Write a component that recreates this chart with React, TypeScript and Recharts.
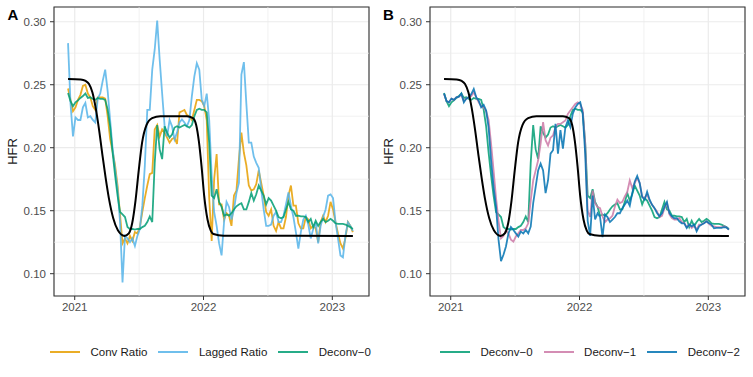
import { CartesianGrid, Line, LineChart, ReferenceArea, ReferenceLine, XAxis, YAxis } from "recharts";

// weekly estimates, first week ~ mid Dec 2020
const WEEK_START = 2020.948;

const convRatio = [
  0.247, 0.238, 0.229, 0.232, 0.238, 0.242, 0.249, 0.25, 0.243, 0.24,
  0.233, 0.23, 0.24, 0.24, 0.24, 0.239, 0.225, 0.207, 0.197, 0.186,
  0.17, 0.147, 0.124, 0.128, 0.124, 0.13, 0.126, 0.133, 0.132, 0.137,
  0.149, 0.16, 0.17, 0.179, 0.18, 0.2145, 0.218, 0.209, 0.2145, 0.212,
  0.208, 0.204, 0.207, 0.208, 0.203, 0.228, 0.229, 0.23, 0.226, 0.225,
  0.222, 0.23, 0.238, 0.238, 0.237, 0.233, 0.222, 0.16, 0.126, 0.175,
  0.195, 0.155, 0.155, 0.143, 0.148, 0.146, 0.138, 0.162, 0.166, 0.191,
  0.212, 0.196, 0.186, 0.17, 0.166, 0.167, 0.171, 0.182, 0.172, 0.162,
  0.149, 0.146, 0.151, 0.138, 0.134, 0.141, 0.136, 0.136, 0.145, 0.162,
  0.17, 0.154, 0.154, 0.14, 0.136, 0.136, 0.145, 0.143, 0.136, 0.138,
  0.136, 0.125, 0.141, 0.146, 0.141, 0.146, 0.157, 0.151, 0.141, 0.132,
  0.124, 0.12, 0.128, 0.141, 0.138, 0.133,
];

const laggedRatio = [
  0.283, 0.235, 0.209, 0.224, 0.222, 0.222, 0.232, 0.2355, 0.224, 0.225,
  0.222, 0.22, 0.239, 0.243, 0.253, 0.262, 0.245, 0.222, 0.199, 0.183,
  0.167, 0.141, 0.093, 0.13, 0.128, 0.125, 0.128, 0.122, 0.13, 0.1355,
  0.154, 0.1855, 0.23, 0.23, 0.262, 0.278, 0.301, 0.27, 0.243, 0.217,
  0.209, 0.222, 0.217, 0.2066, 0.212, 0.22, 0.2224, 0.22, 0.217, 0.222,
  0.241, 0.2566, 0.267, 0.262, 0.238, 0.233, 0.243, 0.222, 0.178, 0.149,
  0.138, 0.124, 0.1145, 0.141, 0.157, 0.153, 0.143, 0.151, 0.164, 0.172,
  0.258, 0.268, 0.235, 0.204, 0.204, 0.193, 0.188, 0.184, 0.167, 0.151,
  0.138, 0.138, 0.139, 0.146, 0.149, 0.141, 0.141, 0.146, 0.155, 0.1645,
  0.154, 0.145, 0.133, 0.12, 0.133, 0.143, 0.146, 0.139, 0.128, 0.1355,
  0.141, 0.124, 0.138, 0.145, 0.151, 0.162, 0.163, 0.16, 0.141, 0.128,
  0.1145, 0.113, 0.13, 0.141, 0.138, 0.134,
];

const deconv0 = [
  0.2434, 0.237, 0.233, 0.236, 0.2376, 0.2395, 0.241, 0.243, 0.2395, 0.24,
  0.2387, 0.238, 0.2395, 0.2387, 0.2387, 0.238, 0.2303, 0.217, 0.196, 0.178,
  0.162, 0.149, 0.147, 0.145, 0.137, 0.1355, 0.1355, 0.135, 0.1355, 0.1355,
  0.137, 0.138, 0.141, 0.1455, 0.141, 0.188, 0.218, 0.1987, 0.191, 0.217,
  0.212, 0.208, 0.2105, 0.216, 0.217, 0.216, 0.217, 0.218, 0.217, 0.216,
  0.218, 0.225, 0.23, 0.231, 0.23, 0.23, 0.228, 0.204, 0.162, 0.16,
  0.167, 0.157, 0.153, 0.146, 0.147, 0.146, 0.148, 0.151, 0.1535, 0.155,
  0.156, 0.151, 0.151, 0.157, 0.164, 0.158, 0.163, 0.17, 0.166, 0.162,
  0.155, 0.16, 0.158, 0.154, 0.15, 0.145, 0.144, 0.145, 0.151, 0.157,
  0.151, 0.15, 0.146, 0.146, 0.1455, 0.1455, 0.145, 0.141, 0.1435, 0.137,
  0.142, 0.138, 0.141, 0.1435, 0.141, 0.142, 0.1435, 0.142, 0.14, 0.1395,
  0.1395, 0.1395, 0.139, 0.138, 0.137, 0.1355,
];

const deconv1 = [
  0.2426, 0.237, 0.236, 0.239, 0.238, 0.24, 0.2405, 0.242, 0.237, 0.239,
  0.24, 0.241, 0.244, 0.24, 0.236, 0.233, 0.232, 0.229, 0.222, 0.203,
  0.182, 0.16, 0.142, 0.128, 0.13, 0.1347, 0.132, 0.127, 0.1255, 0.1295,
  0.132, 0.1347, 0.1347, 0.136, 0.14, 0.158, 0.174, 0.182, 0.19, 0.2032,
  0.2203, 0.206, 0.2018, 0.208, 0.2097, 0.2163, 0.2189, 0.2189, 0.2203, 0.2216,
  0.2268, 0.2295, 0.2321, 0.2347, 0.2361, 0.2347, 0.23, 0.203, 0.15, 0.145,
  0.166, 0.156, 0.153, 0.152, 0.1455, 0.141, 0.143, 0.144, 0.146, 0.1534,
  0.1587, 0.156, 0.157, 0.1613, 0.165, 0.174, 0.168, 0.172, 0.1758, 0.172,
  0.161, 0.16, 0.163, 0.158, 0.1547, 0.152, 0.1495, 0.145, 0.146, 0.152,
  0.156, 0.147, 0.1442, 0.1429, 0.1429, 0.1442, 0.141, 0.1403, 0.137, 0.139,
  0.1363, 0.138, 0.135, 0.139, 0.139, 0.1403, 0.1416, 0.1395, 0.138, 0.1376,
  0.137, 0.137, 0.1368, 0.1376, 0.1368, 0.135,
];

const deconv2 = [
  0.243, 0.237, 0.236, 0.239, 0.238, 0.24, 0.2405, 0.243, 0.236, 0.239,
  0.24, 0.2426, 0.2466, 0.24, 0.2374, 0.232, 0.234, 0.2295, 0.216, 0.19,
  0.169, 0.153, 0.127, 0.11, 0.115, 0.1216, 0.132, 0.137, 0.1347, 0.132,
  0.1295, 0.1334, 0.132, 0.1347, 0.132, 0.1374, 0.156, 0.169, 0.182, 0.1874,
  0.182, 0.164, 0.1742, 0.1953, 0.198, 0.219, 0.1953, 0.214, 0.1992, 0.2163,
  0.2216, 0.2163, 0.227, 0.232, 0.2347, 0.2361, 0.227, 0.1953, 0.142, 0.13,
  0.162, 0.143, 0.148, 0.145, 0.129, 0.147, 0.145, 0.141, 0.143, 0.145,
  0.148, 0.148, 0.152, 0.155, 0.158, 0.154, 0.164, 0.173, 0.1776, 0.172,
  0.161, 0.1587, 0.165, 0.1587, 0.1547, 0.152, 0.1482, 0.1455, 0.148, 0.153,
  0.157, 0.148, 0.1455, 0.144, 0.144, 0.1416, 0.14, 0.14, 0.1363, 0.139,
  0.1376, 0.139, 0.1337, 0.1376, 0.139, 0.14, 0.1416, 0.14, 0.139, 0.136,
  0.1363, 0.1363, 0.1363, 0.137, 0.1368, 0.135,
];

// true HFR curve (black)
const truthYears = [
  2020.948, 2021.046, 2021.085, 2021.111, 2021.137, 2021.162, 2021.188, 2021.214, 2021.24, 2021.265,
  2021.299, 2021.335, 2021.387, 2021.42, 2021.446, 2021.472, 2021.497, 2021.523, 2021.557, 2021.601,
  2021.665, 2021.871, 2021.918, 2021.943, 2021.964, 2021.985, 2022.005, 2022.031, 2022.057, 2022.077,
  2022.155, 2023.16,
];
const truthHfr = [
  0.2545, 0.2542, 0.253, 0.2505, 0.244, 0.232, 0.215, 0.195, 0.176, 0.16,
  0.144, 0.1345, 0.13, 0.132, 0.14, 0.158, 0.182, 0.204, 0.218, 0.2235,
  0.225, 0.225, 0.2235, 0.218, 0.205, 0.185, 0.162, 0.143, 0.134, 0.1315,
  0.1302, 0.13,
];

const X_TICKS = [2021, 2022, 2023];
const X_MINOR = [2021.5, 2022.5];
const Y_TICKS = [0.1, 0.15, 0.2, 0.25, 0.3];
const Y_MINOR = [0.125, 0.175, 0.225, 0.275];
const X_DOMAIN: [number, number] = [2020.839, 2023.285];
const Y_DOMAIN: [number, number] = [0.0823, 0.3117];

const weekly = convRatio.map((_, i) => ({
  t: WEEK_START + i / 52,
  conv: convRatio[i],
  lagged: laggedRatio[i],
  d0: deconv0[i],
  d1: deconv1[i],
  d2: deconv2[i],
}));
const truth = truthYears.map((t, i) => ({ t, hfr: truthHfr[i] }));

type Series = { key: string; name: string; color: string };

const seriesA: Series[] = [
  { key: "conv", name: "Conv Ratio", color: "#E69F00" },
  { key: "lagged", name: "Lagged Ratio", color: "#56B4E9" },
  { key: "d0", name: "Deconv\u22120", color: "#009E73" },
];
const seriesB: Series[] = [
  { key: "d0", name: "Deconv\u22120", color: "#009E73" },
  { key: "d1", name: "Deconv\u22121", color: "#CC79A7" },
  { key: "d2", name: "Deconv\u22122", color: "#0072B2" },
];

const tickStyle = { fill: "#4D4D4D", fontSize: 11.5 };

function Panel(props: { series: Series[]; left: number; width: number; right: number }) {
  return (
    <div style={{ position: "absolute", left: props.left, top: 0 }}>
      <LineChart
        width={props.width}
        height={320}
        data={weekly}
        margin={{ top: 7, right: props.right, bottom: 0, left: 0 }}
      >
        <CartesianGrid stroke="#EBEBEB" strokeWidth={1.2} />
        {X_MINOR.map((x) => (
          <ReferenceLine key={`vx${x}`} x={x} stroke="#EBEBEB" strokeWidth={0.7} />
        ))}
        {Y_MINOR.map((y) => (
          <ReferenceLine key={`hy${y}`} y={y} stroke="#EBEBEB" strokeWidth={0.7} />
        ))}
        <XAxis
          dataKey="t"
          type="number"
          domain={X_DOMAIN}
          ticks={X_TICKS}
          allowDataOverflow
          interval={0}
          axisLine={false}
          tickLine={{ stroke: "#333333" }}
          tickSize={4}
          tickMargin={3}
          height={24}
          tick={tickStyle}
          tickFormatter={(v) => String(v)}
        />
        <YAxis
          type="number"
          domain={Y_DOMAIN}
          ticks={Y_TICKS}
          allowDataOverflow
          interval={0}
          axisLine={false}
          tickLine={{ stroke: "#333333" }}
          tickSize={4}
          tickMargin={4}
          width={54}
          tick={tickStyle}
          tickFormatter={(v) => Number(v).toFixed(2)}
        />
        {props.series.map((s) => (
          <Line
            key={s.key}
            type="linear"
            dataKey={s.key}
            name={s.name}
            stroke={s.color}
            strokeOpacity={0.85}
            strokeWidth={1.8}
            dot={false}
            activeDot={false}
            isAnimationActive={false}
          />
        ))}
        <Line
          data={truth}
          type="monotone"
          dataKey="hfr"
          stroke="#000000"
          strokeWidth={2}
          dot={false}
          activeDot={false}
          isAnimationActive={false}
        />
        <ReferenceArea
          x1={X_DOMAIN[0]}
          x2={X_DOMAIN[1]}
          y1={Y_DOMAIN[0]}
          y2={Y_DOMAIN[1]}
          fill="none"
          fillOpacity={0}
          stroke="#333333"
          strokeWidth={1.1}
        />
      </LineChart>
    </div>
  );
}

function LegendRow(props: { series: Series[]; left: number }) {
  return (
    <div
      style={{
        position: "absolute",
        left: props.left,
        top: 344,
        height: 16,
        display: "flex",
        alignItems: "center",
        fontSize: 11.5,
        color: "#1A1A1A",
        whiteSpace: "nowrap",
      }}
    >
      {props.series.map((s) => (
        <span key={s.key} style={{ display: "flex", alignItems: "center", marginRight: 11 }}>
          <i
            style={{
              display: "inline-block",
              width: 30,
              height: 2.5,
              backgroundColor: s.color,
              opacity: 0.85,
              marginRight: 10.5,
            }}
          />
          {s.name}
        </span>
      ))}
    </div>
  );
}

export default function App() {
  return (
    <div
      style={{
        position: "absolute",
        left: 0,
        top: 0,
        width: 753,
        height: 377,
        background: "#FFFFFF",
        fontFamily: "'Liberation Sans', Arial, sans-serif",
        overflow: "hidden",
      }}
    >
      <Panel series={seriesA} left={0} width={376} right={7} />
      <Panel series={seriesB} left={376} width={377} right={8} />
      <LegendRow series={seriesA} left={50} />
      <LegendRow series={seriesB} left={440} />
      <svg
        width={753}
        height={377}
        style={{ position: "absolute", left: 0, top: 0, pointerEvents: "none" }}
      >
        <text x={7.5} y={19.5} fontSize={15} fontWeight="bold" fill="#000">
          A
        </text>
        <text x={383} y={19.5} fontSize={15} fontWeight="bold" fill="#000">
          B
        </text>
        <text transform="translate(16.5,151.5) rotate(-90)" textAnchor="middle" fontSize={13} fill="#1A1A1A">
          HFR
        </text>
        <text transform="translate(393,151.5) rotate(-90)" textAnchor="middle" fontSize={13} fill="#1A1A1A">
          HFR
        </text>
      </svg>
    </div>
  );
}
